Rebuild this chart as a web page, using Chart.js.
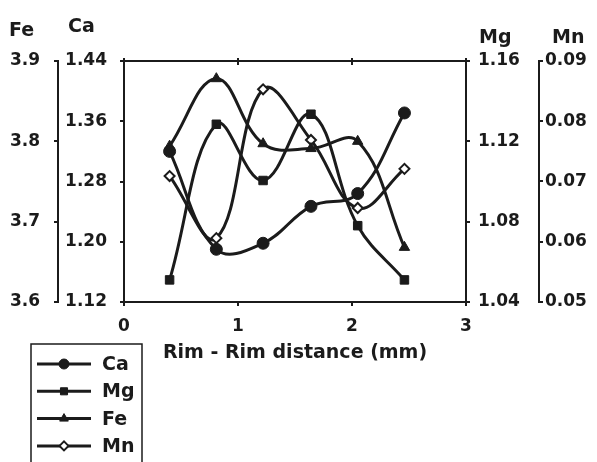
<!DOCTYPE html>
<html>
<head>
<meta charset="utf-8">
<script src="https://cdn.jsdelivr.net/npm/chart.js@4"></script>
<style>
  html, body { margin: 0; padding: 0; background: #fff; }
  #wrap { width: 597px; height: 462px; position: relative; }
</style>
</head>
<body>
<div id="wrap"><canvas id="chart" width="597" height="462"></canvas></div>
<script>
// distance along the rim-rim profile (mm)
let distance = [0.4, 0.81, 1.22, 1.64, 2.05, 2.46];
// element contents
let caValues = [1.32, 1.19, 1.198, 1.247, 1.264, 1.371];
let mgValues = [1.051, 1.1285, 1.1005, 1.1335, 1.078, 1.051];
let feValues = [3.794, 3.878, 3.797, 3.791, 3.800, 3.668];
let mnValues = [0.0709, 0.0606, 0.0853, 0.0769, 0.0656, 0.0721];
// tick labels of every axis
let xTicks = [0, 1, 2, 3];
let caTicks = [1.12, 1.20, 1.28, 1.36, 1.44];
let feTicks = [3.6, 3.7, 3.8, 3.9];
let mgTicks = [1.04, 1.08, 1.12, 1.16];
let mnTicks = [0.05, 0.06, 0.07, 0.08, 0.09];
let seriesNames = ['Ca', 'Mg', 'Fe', 'Mn'];

const ink = '#1b1b1b';
const fontFamily = '"DejaVu Sans", "Liberation Sans", sans-serif';
const tickFont = { family: fontFamily, size: 17, weight: 'bold' };
const nameFont = 'bold 19px ' + fontFamily;

function toPoints(values) {//pair each value with its distance
    return values.map((v, i) => ({ x: distance[i], y: v }));
}

function lineSet(label, values, axis, style, radius, fill) {
    return {
        label: label,
        data: toPoints(values),
        yAxisID: axis,
        borderColor: ink,
        borderWidth: 3,
        pointStyle: style,
        pointRadius: radius,
        pointBackgroundColor: fill,
        pointBorderColor: ink,
        pointBorderWidth: fill === '#fff' ? 2 : 1,
        tension: 0.4,
        fill: false
    };
}

const datasets = [
    lineSet(seriesNames[0], caValues, 'yCa', 'circle', 6, ink),
    lineSet(seriesNames[1], mgValues, 'yMg', 'rect', 6, ink),
    lineSet(seriesNames[2], feValues, 'yFe', 'triangle', 6, ink),
    lineSet(seriesNames[3], mnValues, 'yMn', 'rectRot', 5, '#fff')
];

function yAxis(position, weight, ticks, digits, width, pad) {
    return {
        type: 'linear',
        position: position,
        weight: weight,
        min: ticks[0],
        max: ticks[ticks.length - 1],
        afterBuildTicks: s => { s.ticks = ticks.map(v => ({ value: v })); },
        afterFit: s => { s.width = width; },
        border: { display: true, color: ink, width: 2 },
        grid: { display: true, drawOnChartArea: false, drawTicks: true, tickLength: 4, color: ink, lineWidth: 2 },
        ticks: {
            color: ink,
            font: tickFont,
            padding: pad,
            callback: v => Number(v).toFixed(digits)
        }
    };
}

// axis names, top of the frame and the boxed legend
const decorations = {
    id: 'decorations',
    afterDraw(chart) {
        const ctx = chart.ctx;
        const a = chart.chartArea;
        ctx.save();
        ctx.strokeStyle = ink;
        ctx.lineWidth = 2;
        ctx.beginPath();
        ctx.moveTo(a.left, a.top);
        ctx.lineTo(a.right, a.top);
        ctx.stroke();
        const sx = chart.scales.x;
        xTicks.forEach(t => {//small ticks on the top border
            const px = sx.getPixelForValue(t);
            ctx.beginPath();
            ctx.moveTo(px, a.top - 3);
            ctx.lineTo(px, a.top + 4);
            ctx.stroke();
        });

        ctx.fillStyle = ink;
        ctx.font = nameFont;
        ctx.textBaseline = 'alphabetic';
        ctx.textAlign = 'left';
        ctx.fillText('Fe', 9, 36);
        ctx.fillText('Ca', 68, 32);
        ctx.fillText('Mg', 479, 43);
        ctx.fillText('Mn', 552, 43);

        // legend box, open at the bottom edge
        const bx = 31, by = 344, bw = 111;
        ctx.lineWidth = 1.5;
        ctx.beginPath();
        ctx.moveTo(bx, chart.height + 2);
        ctx.lineTo(bx, by);
        ctx.lineTo(bx + bw, by);
        ctx.lineTo(bx + bw, chart.height + 2);
        ctx.stroke();

        chart.data.datasets.forEach((ds, i) => {
            const y = 364 + i * 27.3;
            ctx.strokeStyle = ink;
            ctx.lineWidth = 3;
            ctx.beginPath();
            ctx.moveTo(37, y);
            ctx.lineTo(91, y);
            ctx.stroke();
            ctx.fillStyle = ds.pointBackgroundColor;
            ctx.lineWidth = ds.pointBorderWidth;
            Chart.helpers.drawPoint(ctx, {
                pointStyle: ds.pointStyle,
                radius: ds.pointStyle === 'rectRot' ? 4.5 : 5,
                borderWidth: ds.pointBorderWidth
            }, 64, y);
            ctx.fillStyle = ink;
            ctx.font = nameFont;
            ctx.textBaseline = 'middle';
            ctx.fillText(ds.label, 102, y + 1);
        });
        ctx.restore();
    }
};

new Chart(document.getElementById('chart').getContext('2d'), {
    type: 'line',
    data: { datasets: datasets },
    options: {
        responsive: false,
        animation: false,
        devicePixelRatio: 1,
        layout: { padding: { top: 61, bottom: 98, left: 0, right: 0 } },
        plugins: { legend: { display: false }, tooltip: { enabled: false } },
        scales: {
            x: {
                type: 'linear',
                position: 'bottom',
                min: xTicks[0],
                max: xTicks[xTicks.length - 1],
                afterBuildTicks: s => { s.ticks = xTicks.map(v => ({ value: v })); },
                afterFit: s => { s.height = 62; },
                border: { display: true, color: ink, width: 2 },
                grid: { display: true, drawOnChartArea: false, drawTicks: true, tickLength: 4, color: ink, lineWidth: 2 },
                ticks: { color: ink, font: tickFont, padding: 10 },
                title: {
                    display: true,
                    text: 'Rim - Rim distance (mm)',
                    color: ink,
                    font: { family: fontFamily, size: 19, weight: 'bold' },
                    padding: { top: 0, bottom: 0 }
                }
            },
            yCa: yAxis('left', 0, caTicks, 2, 66, 13),
            yFe: yAxis('left', 1, feTicks, 1, 58, 14),
            yMg: yAxis('right', 0, mgTicks, 2, 73, 8),
            yMn: yAxis('right', 1, mnTicks, 2, 58, 2)
        }
    },
    plugins: [decorations]
});
</script>
</body>
</html>
